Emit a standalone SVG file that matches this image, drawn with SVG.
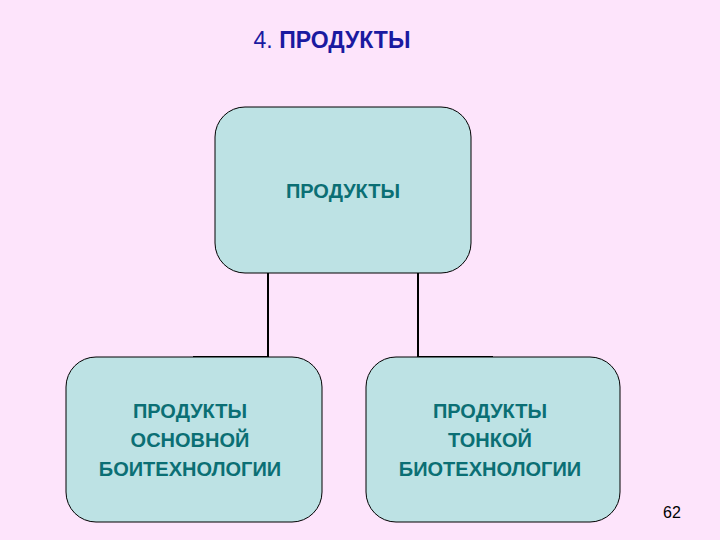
<svg xmlns="http://www.w3.org/2000/svg" width="720" height="540" viewBox="0 0 720 540">
<style>
.box{fill:#bde2e4;stroke:#000;stroke-width:1}
.t{font-family:"Liberation Sans",Arial,sans-serif;font-size:20px;font-weight:bold;fill:#0b6f74;text-anchor:middle}
.c{stroke:#000;stroke-width:2;fill:none}
</style>
<rect width="720" height="540" fill="#fde4fb"/>
<text x="332" y="48" font-family="Liberation Sans,Arial,sans-serif" font-size="23" fill="#1a1aa0" text-anchor="middle">4. <tspan font-weight="bold">ПРОДУКТЫ</tspan></text>
<g id="connectors">
<path class="c" d="M268 273V357H193"/>
<path class="c" d="M418 273V357H493"/>
</g>
<g id="top"><rect class="box" x="215" y="107" width="256" height="166" rx="30"/><text class="t" x="343" y="198">ПРОДУКТЫ</text></g>
<g id="left"><rect class="box" x="66" y="357" width="256" height="165" rx="30"/><text class="t" x="190" y="418">ПРОДУКТЫ<tspan x="190" dy="29">ОСНОВНОЙ</tspan><tspan x="190" dy="29">БОИТЕХНОЛОГИИ</tspan></text></g>
<g id="right"><rect class="box" x="366" y="357" width="254" height="165" rx="30"/><text class="t" x="490" y="418">ПРОДУКТЫ<tspan x="490" dy="29">ТОНКОЙ</tspan><tspan x="490" dy="29">БИОТЕХНОЛОГИИ</tspan></text></g>
<text x="672" y="518" font-family="Liberation Sans,Arial,sans-serif" font-size="16" fill="#000" text-anchor="middle">62</text>
</svg>
